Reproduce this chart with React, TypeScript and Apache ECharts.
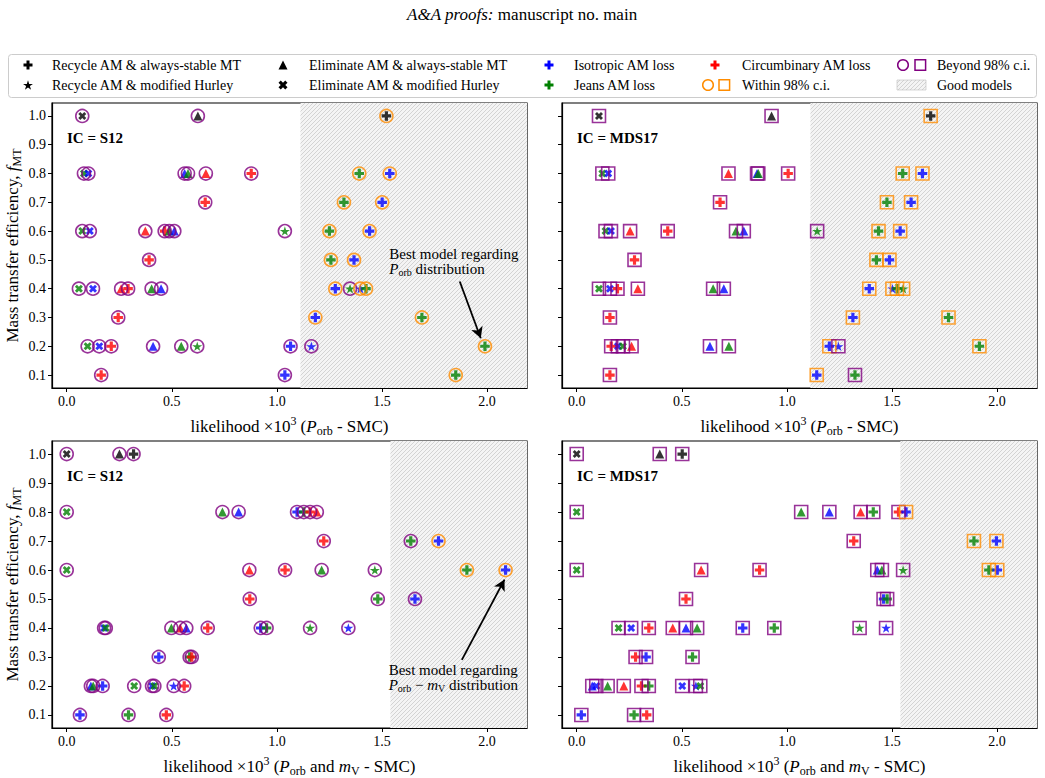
import React, { useEffect, useRef } from 'react';
import * as echarts from 'echarts';

type Loss = 'I' | 'J' | 'C' | 'K';
type MT = 'RS' | 'RH' | 'ES' | 'EH';
// [likelihood x1e3, f_MT, AM loss, MT scheme, within 98% c.i. (1) / beyond (0)]
type Pt = [number, number, Loss, MT, number];

const X_TICKS = [0, 0.5, 1.0, 1.5, 2.0];
const Y_TICKS = [0.1, 0.2, 0.3, 0.4, 0.5, 0.6, 0.7, 0.8, 0.9, 1.0];
const X_MIN = -0.07;
const X_MAX = 2.19;
const Y_MIN = 0.055;
const Y_MAX = 1.045;
const GOOD_START_PORB = 1.112;
const GOOD_START_PORB_MV = 1.54;

const S12_PORB: Pt[] = [
  [0.074, 1.0, 'K', 'EH', 0], [0.624, 1.0, 'K', 'ES', 0], [1.521, 1.0, 'K', 'RS', 1],
  [0.082, 0.8, 'J', 'EH', 0], [0.103, 0.8, 'I', 'EH', 0], [0.561, 0.8, 'I', 'ES', 0], [0.577, 0.8, 'J', 'ES', 0],
  [0.662, 0.8, 'C', 'ES', 0], [0.878, 0.8, 'C', 'RS', 0], [1.392, 0.8, 'J', 'RS', 1], [1.537, 0.8, 'I', 'RS', 1],
  [0.659, 0.7, 'C', 'RS', 0], [1.319, 0.7, 'J', 'RS', 1], [1.501, 0.7, 'I', 'RS', 1],
  [0.074, 0.6, 'J', 'EH', 0], [0.11, 0.6, 'I', 'EH', 0], [0.374, 0.6, 'C', 'ES', 0], [0.466, 0.6, 'C', 'RS', 0],
  [0.488, 0.6, 'J', 'ES', 0], [0.512, 0.6, 'I', 'ES', 0], [1.038, 0.6, 'J', 'RH', 0], [1.25, 0.6, 'J', 'RS', 1],
  [1.441, 0.6, 'I', 'RS', 1],
  [0.392, 0.5, 'C', 'RS', 0], [1.257, 0.5, 'J', 'RS', 1], [1.367, 0.5, 'I', 'RS', 1],
  [0.058, 0.4, 'J', 'EH', 0], [0.125, 0.4, 'I', 'EH', 0], [0.259, 0.4, 'C', 'ES', 0], [0.292, 0.4, 'C', 'RS', 0],
  [0.404, 0.4, 'J', 'ES', 0], [0.449, 0.4, 'I', 'ES', 0], [1.278, 0.4, 'I', 'RS', 1], [1.348, 0.4, 'J', 'RH', 0],
  [1.397, 0.4, 'I', 'RH', 1], [1.424, 0.4, 'J', 'RS', 1],
  [0.245, 0.3, 'C', 'RS', 0], [1.183, 0.3, 'I', 'RS', 1], [1.69, 0.3, 'J', 'RS', 1],
  [0.0995, 0.2, 'J', 'EH', 0], [0.155, 0.2, 'I', 'EH', 0], [0.212, 0.2, 'C', 'RS', 0], [0.411, 0.2, 'I', 'ES', 0],
  [0.545, 0.2, 'J', 'ES', 0], [0.621, 0.2, 'J', 'RH', 0], [1.065, 0.2, 'I', 'RS', 0], [1.164, 0.2, 'I', 'RH', 0],
  [1.99, 0.2, 'J', 'RS', 1],
  [0.164, 0.1, 'C', 'RS', 0], [1.038, 0.1, 'I', 'RS', 0], [1.851, 0.1, 'J', 'RS', 1],
];

const MDS17_PORB: Pt[] = [
  [0.106, 1.0, 'K', 'EH', 0], [0.927, 1.0, 'K', 'ES', 0], [1.684, 1.0, 'K', 'RS', 1],
  [0.122, 0.8, 'J', 'EH', 0], [0.15, 0.8, 'I', 'EH', 0], [0.722, 0.8, 'C', 'ES', 0], [0.858, 0.8, 'I', 'ES', 0],
  [0.864, 0.8, 'J', 'ES', 0], [1.006, 0.8, 'C', 'RS', 0], [1.551, 0.8, 'J', 'RS', 1], [1.645, 0.8, 'I', 'RS', 1],
  [0.682, 0.7, 'C', 'RS', 0], [1.476, 0.7, 'J', 'RS', 1], [1.591, 0.7, 'I', 'RS', 1],
  [0.137, 0.6, 'J', 'EH', 0], [0.163, 0.6, 'I', 'EH', 0], [0.254, 0.6, 'C', 'ES', 0], [0.433, 0.6, 'C', 'RS', 0],
  [0.758, 0.6, 'J', 'ES', 0], [0.795, 0.6, 'I', 'ES', 0], [1.144, 0.6, 'J', 'RH', 0], [1.436, 0.6, 'J', 'RS', 1],
  [1.539, 0.6, 'I', 'RS', 1],
  [0.275, 0.5, 'C', 'RS', 0], [1.426, 0.5, 'J', 'RS', 1], [1.488, 0.5, 'I', 'RS', 1],
  [0.106, 0.4, 'J', 'EH', 0], [0.158, 0.4, 'I', 'EH', 0], [0.194, 0.4, 'C', 'RS', 0], [0.291, 0.4, 'C', 'ES', 0],
  [0.649, 0.4, 'J', 'ES', 0], [0.7, 0.4, 'I', 'ES', 0], [1.392, 0.4, 'I', 'RS', 1], [1.502, 0.4, 'I', 'RH', 1],
  [1.524, 0.4, 'J', 'RS', 1], [1.553, 0.4, 'J', 'RH', 1],
  [0.158, 0.3, 'C', 'RS', 0], [1.314, 0.3, 'I', 'RS', 1], [1.769, 0.3, 'J', 'RS', 1],
  [0.164, 0.2, 'C', 'RS', 0], [0.196, 0.2, 'I', 'EH', 0], [0.22, 0.2, 'J', 'EH', 0], [0.261, 0.2, 'C', 'ES', 0],
  [0.634, 0.2, 'I', 'ES', 0], [0.724, 0.2, 'J', 'ES', 0], [1.202, 0.2, 'I', 'RS', 1], [1.245, 0.2, 'I', 'RH', 0],
  [1.916, 0.2, 'J', 'RS', 1],
  [0.158, 0.1, 'C', 'RS', 0], [1.142, 0.1, 'I', 'RS', 1], [1.324, 0.1, 'J', 'RS', 0],
];

const S12_PORB_MV: Pt[] = [
  [0.0, 1.0, 'K', 'EH', 0], [0.251, 1.0, 'K', 'ES', 0], [0.318, 1.0, 'K', 'RS', 0],
  [0.0, 0.8, 'J', 'EH', 0], [0.741, 0.8, 'J', 'ES', 0], [0.818, 0.8, 'I', 'ES', 0], [1.096, 0.8, 'I', 'RS', 0],
  [1.128, 0.8, 'J', 'RS', 0], [1.158, 0.8, 'C', 'RS', 0], [1.19, 0.8, 'C', 'ES', 0],
  [1.223, 0.7, 'C', 'RS', 0], [1.637, 0.7, 'J', 'RS', 0], [1.769, 0.7, 'I', 'RS', 1],
  [0.0, 0.6, 'J', 'EH', 0], [0.869, 0.6, 'C', 'ES', 0], [1.039, 0.6, 'C', 'RS', 0], [1.213, 0.6, 'J', 'ES', 0],
  [1.466, 0.6, 'J', 'RH', 0], [1.904, 0.6, 'J', 'RS', 1], [2.088, 0.6, 'I', 'RS', 1],
  [0.871, 0.5, 'C', 'RS', 0], [1.48, 0.5, 'J', 'RS', 0], [1.657, 0.5, 'I', 'RS', 0],
  [0.178, 0.4, 'I', 'EH', 0], [0.186, 0.4, 'J', 'EH', 0], [0.498, 0.4, 'J', 'ES', 0], [0.54, 0.4, 'C', 'ES', 0],
  [0.569, 0.4, 'I', 'ES', 0], [0.671, 0.4, 'C', 'RS', 0], [0.923, 0.4, 'I', 'RS', 0], [0.951, 0.4, 'J', 'RS', 0],
  [1.158, 0.4, 'J', 'RH', 0], [1.34, 0.4, 'I', 'RH', 0],
  [0.438, 0.3, 'I', 'RS', 0], [0.585, 0.3, 'J', 'RS', 0], [0.595, 0.3, 'C', 'RS', 0],
  [0.115, 0.2, 'I', 'ES', 0], [0.126, 0.2, 'J', 'ES', 0], [0.171, 0.2, 'I', 'RS', 0], [0.321, 0.2, 'J', 'EH', 0],
  [0.406, 0.2, 'I', 'EH', 0], [0.417, 0.2, 'J', 'EH', 0], [0.509, 0.2, 'I', 'RH', 0], [0.559, 0.2, 'C', 'RS', 0],
  [0.063, 0.1, 'I', 'RS', 0], [0.294, 0.1, 'J', 'RS', 0], [0.474, 0.1, 'C', 'RS', 0],
];

const MDS17_PORB_MV: Pt[] = [
  [0.0, 1.0, 'K', 'EH', 0], [0.395, 1.0, 'K', 'ES', 0], [0.502, 1.0, 'K', 'RS', 0],
  [0.0, 0.8, 'J', 'EH', 0], [1.068, 0.8, 'J', 'ES', 0], [1.202, 0.8, 'I', 'ES', 0], [1.351, 0.8, 'C', 'ES', 0],
  [1.411, 0.8, 'J', 'RS', 0], [1.531, 0.8, 'C', 'RS', 0], [1.567, 0.8, 'I', 'RS', 1],
  [1.318, 0.7, 'C', 'RS', 0], [1.89, 0.7, 'J', 'RS', 1], [1.997, 0.7, 'I', 'RS', 1],
  [0.0, 0.6, 'J', 'EH', 0], [0.592, 0.6, 'C', 'ES', 0], [0.87, 0.6, 'C', 'RS', 0], [1.43, 0.6, 'I', 'ES', 0],
  [1.452, 0.6, 'J', 'ES', 0], [1.553, 0.6, 'J', 'RH', 0], [1.961, 0.6, 'J', 'RS', 1], [2.001, 0.6, 'I', 'RS', 1],
  [0.52, 0.5, 'C', 'RS', 0], [1.46, 0.5, 'I', 'RS', 0], [1.477, 0.5, 'J', 'RS', 0],
  [0.199, 0.4, 'J', 'EH', 0], [0.259, 0.4, 'I', 'EH', 0], [0.343, 0.4, 'C', 'RS', 0], [0.457, 0.4, 'C', 'ES', 0],
  [0.52, 0.4, 'I', 'ES', 0], [0.573, 0.4, 'J', 'ES', 0], [0.79, 0.4, 'I', 'RS', 0], [0.94, 0.4, 'J', 'RS', 0],
  [1.346, 0.4, 'J', 'RH', 0], [1.472, 0.4, 'I', 'RH', 0],
  [0.28, 0.3, 'C', 'RS', 0], [0.33, 0.3, 'I', 'RS', 0], [0.551, 0.3, 'J', 'RS', 0],
  [0.074, 0.2, 'I', 'ES', 0], [0.093, 0.2, 'I', 'EH', 0], [0.147, 0.2, 'J', 'ES', 0], [0.224, 0.2, 'C', 'ES', 0],
  [0.308, 0.2, 'C', 'RS', 0], [0.343, 0.2, 'J', 'RS', 0], [0.502, 0.2, 'I', 'EH', 0], [0.567, 0.2, 'I', 'RH', 0],
  [0.588, 0.2, 'J', 'EH', 0],
  [0.022, 0.1, 'I', 'RS', 0], [0.273, 0.1, 'J', 'RS', 0], [0.333, 0.1, 'C', 'RS', 0],
];

// annotation arrows [from, to] in data coordinates
const ARROW_PORB: [number, number][] = [[1.87, 0.425], [1.97, 0.228]];
const ARROW_PORB_MV: [number, number][] = [[1.88, 0.29], [2.083, 0.567]];
const NOTE_PORB: [number, number] = [1.535, 0.519];
const NOTE_PORB_MV: [number, number] = [1.532, 0.255];

const LOSS_COLOR: Record<Loss, string> = { I: '#0000ff', J: '#008000', C: '#ff0000', K: '#000000' };
const CI_COLOR = ['#800080', '#ff8c00'];
const SERIF = '"Liberation Serif", "Times New Roman", serif';

const PLUS_PTS = [[-1 / 3, -1], [1 / 3, -1], [1 / 3, -1 / 3], [1, -1 / 3], [1, 1 / 3], [1 / 3, 1 / 3], [1 / 3, 1], [-1 / 3, 1], [-1 / 3, 1 / 3], [-1, 1 / 3], [-1, -1 / 3], [-1 / 3, -1 / 3]];
const X_PTS = [[0, -0.5], [0.5, -1], [1, -0.5], [0.5, 0], [1, 0.5], [0.5, 1], [0, 0.5], [-0.5, 1], [-1, 0.5], [-0.5, 0], [-1, -0.5], [-0.5, -1]];
const TRI_PTS = [[0, -1], [1, 1], [-1, 1]];
const STAR_PTS = Array.from({ length: 10 }, (_, k) => {
  const a = -Math.PI / 2 + (k * Math.PI) / 5;
  const r = k % 2 ? 0.382 : 1;
  return [r * Math.cos(a), r * Math.sin(a)];
});
const toPath = (pts: number[][]) =>
  'path://M' + pts.map((p) => `${p[0].toFixed(4)},${p[1].toFixed(4)}`).join('L') + 'Z';

const SYMBOL: Record<MT, string> = { RS: toPath(PLUS_PTS), RH: toPath(STAR_PTS), ES: toPath(TRI_PTS), EH: toPath(X_PTS) };
const SYM_SIZE: Record<MT, number> = { RS: 9.5, RH: 10, ES: 9, EH: 8 };

const hatchSvg =
  '<svg xmlns="http://www.w3.org/2000/svg" width="4" height="4"><rect width="4" height="4" fill="#f4f4f4"/>' +
  '<path d="M0,4 L4,0 M-2,2 L2,-2 M2,6 L6,2" stroke="#bcbcbc" stroke-width="0.6"/></svg>';
const HATCH_URL = 'data:image/svg+xml;charset=utf-8,' + encodeURIComponent(hatchSvg);
const hatch = () => ({ image: HATCH_URL, repeat: 'repeat', imageWidth: 4, imageHeight: 4 } as any);

const GRIDS = [
  { left: 52, top: 103, width: 475, height: 285 },
  { left: 562, top: 103, width: 475, height: 285 },
  { left: 52, top: 441, width: 475, height: 287 },
  { left: 562, top: 441, width: 475, height: 287 },
];

const PANELS = [
  { data: S12_PORB, ring: 'circle', good: GOOD_START_PORB, ic: 'IC = S12', mv: false },
  { data: MDS17_PORB, ring: 'rect', good: GOOD_START_PORB, ic: 'IC = MDS17', mv: false },
  { data: S12_PORB_MV, ring: 'circle', good: GOOD_START_PORB_MV, ic: 'IC = S12', mv: true },
  { data: MDS17_PORB_MV, ring: 'rect', good: GOOD_START_PORB_MV, ic: 'IC = MDS17', mv: true },
];

const baseRich = (fs: number) => ({
  n: { fontSize: fs, fontFamily: SERIF, color: '#000', lineHeight: fs + 5, verticalAlign: 'middle' },
  i: { fontSize: fs, fontFamily: SERIF, fontStyle: 'italic', color: '#000', lineHeight: fs + 5, verticalAlign: 'middle' },
  sub: { fontSize: Math.round(fs * 0.7), fontFamily: SERIF, color: '#000', lineHeight: Math.round(fs * 0.7), verticalAlign: 'bottom' },
  sup: { fontSize: Math.round(fs * 0.7), fontFamily: SERIF, color: '#000', lineHeight: Math.round(fs * 0.7), verticalAlign: 'top' },
});

export default function App() {
  const ref = useRef<HTMLDivElement>(null);
  useEffect(() => {
    document.body.style.margin = '0';
    const chart = echarts.init(ref.current!, null, { renderer: 'svg' });

    const xAxes = PANELS.map((p, g) => ({
      type: 'value',
      gridIndex: g,
      min: X_MIN,
      max: X_MAX,
      splitLine: { show: false },
      axisLine: { show: true, onZero: false, lineStyle: { color: '#000', width: 1.2 } },
      axisTick: { show: true, length: 4, lineStyle: { color: '#000', width: 1 }, customValues: X_TICKS },
      axisLabel: {
        customValues: X_TICKS,
        formatter: (v: number) => v.toFixed(1),
        fontFamily: SERIF,
        fontSize: 14,
        color: '#000',
        margin: 6,
      },
      name: p.mv
        ? '{n|likelihood ×10}{sup|3}{n| (}{i|P}{sub|orb}{n| and }{i|m}{sub|V}{n| - SMC)}'
        : '{n|likelihood ×10}{sup|3}{n| (}{i|P}{sub|orb}{n| - SMC)}',
      nameLocation: 'middle',
      nameGap: 27,
      nameTextStyle: { rich: baseRich(17) },
    }));

    const yAxes = PANELS.map((p, g) => ({
      type: 'value',
      gridIndex: g,
      min: Y_MIN,
      max: Y_MAX,
      splitLine: { show: false },
      axisLine: { show: true, onZero: false, lineStyle: { color: '#000', width: 1.2 } },
      axisTick: { show: true, length: 4, lineStyle: { color: '#000', width: 1 }, customValues: Y_TICKS },
      axisLabel: {
        show: g % 2 === 0,
        customValues: Y_TICKS,
        formatter: (v: number) => v.toFixed(1),
        fontFamily: SERIF,
        fontSize: 14,
        color: '#000',
        margin: 6,
      },
      name: g % 2 === 0 ? '{n|Mass transfer efficiency, }{i|f}{sub|MT}' : '',
      nameLocation: 'middle',
      nameRotate: 90,
      nameGap: 29,
      nameTextStyle: { rich: baseRich(17) },
    }));

    const series: any[] = [];
    PANELS.forEach((p, g) => {
      series.push({
        type: 'scatter',
        xAxisIndex: g,
        yAxisIndex: g,
        data: [],
        z: 1,
        silent: true,
        markArea: {
          silent: true,
          itemStyle: { color: hatch(), borderWidth: 0 },
          data: [[{ xAxis: p.good }, { xAxis: X_MAX }]],
        },
      });
      const arrow = g === 0 ? ARROW_PORB : g === 2 ? ARROW_PORB_MV : null;
      series.push({
        type: 'scatter',
        xAxisIndex: g,
        yAxisIndex: g,
        z: 3,
        silent: true,
        symbolKeepAspect: true,
        data: p.data.map((d) => ({
          value: [d[0], d[1]],
          symbol: SYMBOL[d[3]],
          symbolSize: SYM_SIZE[d[3]],
          itemStyle: { color: LOSS_COLOR[d[2]] },
        })),
        markLine: arrow
          ? {
              silent: true,
              symbol: ['none', 'arrow'],
              symbolSize: [9, 11],
              label: { show: false },
              lineStyle: { color: '#000', width: 1.8, type: 'solid' },
              data: [[{ coord: arrow[0] }, { coord: arrow[1] }]],
            }
          : undefined,
      });
      series.push({
        type: 'scatter',
        xAxisIndex: g,
        yAxisIndex: g,
        z: 4,
        silent: true,
        data: p.data.map((d) => ({
          value: [d[0], d[1]],
          symbol: p.ring,
          symbolSize: 13,
          itemStyle: { color: 'rgba(0,0,0,0)', borderColor: CI_COLOR[d[4]], borderWidth: 1.6 },
        })),
      });
    });

    chart.setOption({
      animation: false,
      backgroundColor: '#fff',
      grid: GRIDS.map((gr) => ({ ...gr, show: true, borderColor: '#000', borderWidth: 1.2, backgroundColor: 'transparent' })),
      xAxis: xAxes,
      yAxis: yAxes,
      series,
    });

    // graphics: title, legend, panel labels, annotations
    const font14 = { fontSize: 14, fontFamily: SERIF, fill: '#000' };
    const poly = (pts: number[][], cx: number, cy: number, r: number, fill: string) => ({
      type: 'polygon',
      silent: true,
      shape: { points: pts.map(([a, b]) => [cx + a * r, cy + b * r]) },
      style: { fill },
    });
    const label = (x: number, y: number, text: string) => ({
      type: 'text',
      silent: true,
      x,
      y,
      style: { ...font14, text, textAlign: 'left', verticalAlign: 'middle' },
    });
    const r1 = 65;
    const r2 = 85;
    const elements: any[] = [
      {
        type: 'text',
        silent: true,
        x: 522,
        y: 14,
        style: {
          text: '{i|A&A proofs:}{n| manuscript no. main}',
          textAlign: 'center',
          verticalAlign: 'middle',
          rich: {
            i: { fontSize: 17, fontFamily: SERIF, fontStyle: 'italic', fill: '#000' },
            n: { fontSize: 17, fontFamily: SERIF, fill: '#000' },
          },
        },
      },
      {
        type: 'rect',
        silent: true,
        shape: { x: 8.5, y: 54.5, width: 1028, height: 43, r: 3 },
        style: { fill: '#fff', stroke: '#cccccc', lineWidth: 1 },
      },
      poly(PLUS_PTS, 28, r1, 4.5, '#000'),
      label(52, r1, 'Recycle AM & always-stable MT'),
      poly(STAR_PTS, 28, r2 + 0.5, 5.2, '#000'),
      label(52, r2, 'Recycle AM & modified Hurley'),
      poly(TRI_PTS, 283, r1, 4.5, '#000'),
      label(309, r1, 'Eliminate AM & always-stable MT'),
      poly(X_PTS, 283, r2, 4.5, '#000'),
      label(309, r2, 'Eliminate AM & modified Hurley'),
      poly(PLUS_PTS, 549, r1, 4.5, LOSS_COLOR.I),
      label(574, r1, 'Isotropic AM loss'),
      poly(PLUS_PTS, 549, r2, 4.5, LOSS_COLOR.J),
      label(574, r2, 'Jeans AM loss'),
      poly(PLUS_PTS, 715, r1, 4.5, LOSS_COLOR.C),
      label(742, r1, 'Circumbinary AM loss'),
      { type: 'circle', silent: true, shape: { cx: 708, cy: r2, r: 5.3 }, style: { fill: 'none', stroke: CI_COLOR[1], lineWidth: 1.5 } },
      { type: 'rect', silent: true, shape: { x: 719, y: r2 - 5.3, width: 10.6, height: 10.6 }, style: { fill: 'none', stroke: CI_COLOR[1], lineWidth: 1.5 } },
      label(742, r2, 'Within 98% c.i.'),
      { type: 'circle', silent: true, shape: { cx: 903, cy: r1, r: 5.3 }, style: { fill: 'none', stroke: CI_COLOR[0], lineWidth: 1.5 } },
      { type: 'rect', silent: true, shape: { x: 915, y: r1 - 5.3, width: 10.6, height: 10.6 }, style: { fill: 'none', stroke: CI_COLOR[0], lineWidth: 1.5 } },
      label(937, r1, 'Beyond 98% c.i.'),
      { type: 'rect', silent: true, shape: { x: 897, y: r2 - 5, width: 29, height: 10 }, style: { fill: hatch(), stroke: '#bdbdbd', lineWidth: 0.6 } },
      label(937, r2, 'Good models'),
    ];

    PANELS.forEach((p, g) => {
      elements.push({
        type: 'text',
        silent: true,
        x: GRIDS[g].left + 15,
        y: GRIDS[g].top + 35,
        style: { text: p.ic, fontSize: 15, fontWeight: 'bold', fontFamily: SERIF, fill: '#000', textAlign: 'left', verticalAlign: 'middle' },
      });
    });

    const rich15 = {
      n: { fontSize: 15, fontFamily: SERIF, fill: '#000', lineHeight: 16, verticalAlign: 'middle' },
      i: { fontSize: 15, fontFamily: SERIF, fontStyle: 'italic', fill: '#000', lineHeight: 16, verticalAlign: 'middle' },
      sub: { fontSize: 10, fontFamily: SERIF, fill: '#000', lineHeight: 10, verticalAlign: 'bottom' },
    };
    const notes: [number, [number, number], string][] = [
      [0, NOTE_PORB, '{i|P}{sub|orb}{n| distribution}'],
      [2, NOTE_PORB_MV, '{i|P}{sub|orb}{n| − }{i|m}{sub|V}{n| distribution}'],
    ];
    notes.forEach(([g, pos, line2]) => {
      const px = chart.convertToPixel({ gridIndex: g } as any, pos) as number[];
      elements.push({
        type: 'text',
        silent: true,
        x: px[0],
        y: px[1],
        style: { text: 'Best model regarding', fontSize: 15, fontFamily: SERIF, fill: '#000', textAlign: 'left', verticalAlign: 'middle' },
      });
      elements.push({
        type: 'text',
        silent: true,
        x: px[0],
        y: px[1] + 15,
        style: { text: line2, rich: rich15, textAlign: 'left', verticalAlign: 'middle' },
      });
    });

    chart.setOption({ graphic: { elements: elements.map((e) => ({ ...e, z: 100 })) } });

    return () => chart.dispose();
  }, []);
  return <div ref={ref} style={{ width: 1045, height: 778 }} />;
}
